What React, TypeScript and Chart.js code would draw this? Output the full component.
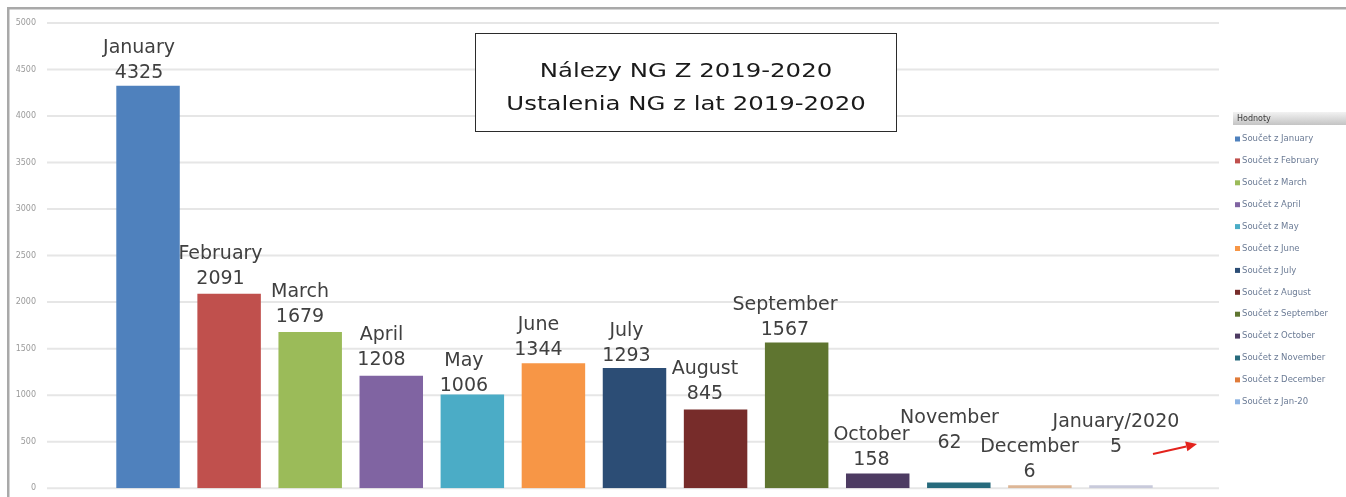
import React, { useEffect, useRef } from 'react';
import { Chart, registerables } from 'chart.js';

Chart.register(...registerables);

// ---------- data ----------
const categories = [
  'January', 'February', 'March', 'April', 'May', 'June', 'July',
  'August', 'September', 'October', 'November', 'December', 'January/2020',
];
const values = [4325, 2091, 1679, 1208, 1006, 1344, 1293, 845, 1567, 158, 62, 6, 5];
const legendNames = [
  'January', 'February', 'March', 'April', 'May', 'June', 'July',
  'August', 'September', 'October', 'November', 'December', 'Jan-20',
];
const legendPrefix = 'Součet z ';
const legendTitle = 'Hodnoty';
const titleLines = ['Nálezy NG Z 2019-2020', 'Ustalenia NG z lat 2019-2020'];
const yMin = 0;
const yMax = 5000;
const yStep = 500;

// ---------- styles ----------
const paletteColors = [
  '#4F81BD', '#C0504D', '#9BBB59', '#8064A2', '#4BACC6', '#F79646', '#2C4D75',
  '#772C2A', '#5F7530', '#4D3B62', '#276A7C', '#E07B39', '#8EB4E3',
];
const barColors = [
  '#4F81BD', '#C0504D', '#9BBB59', '#8064A2', '#4BACC6', '#F79646', '#2C4D75',
  '#772C2A', '#5F7530', '#4D3B62', '#276A7C', '#DDB696', '#C8CADB',
];
// manual label placement (px) relative to bar centre / bar top
const labelDx = [-9, -8.6, -10.2, -9.8, -8.4, -15, -8, -10.6, -11.7, -6.3, -9.3, -10.4, -5];
const labelDy = [-15, -17, -17, -18, -11, -15, -13.5, -18, -14.5, -15, -41, -17.5, -42.5];
const LABEL_FONT = '19px "DejaVu Sans"';
const LABEL_LINE = 25;

const decorPlugin = {
  id: 'decor',
  beforeDraw(chart: any) {
    const ctx = chart.ctx;
    ctx.save();
    ctx.fillStyle = '#ffffff';
    ctx.fillRect(0, 0, chart.width, chart.height);
    ctx.fillStyle = '#a9a9a9';
    ctx.fillRect(7, 7, chart.width - 7, 2.5);
    ctx.fillRect(7, 7, 2.5, chart.height - 7);
    ctx.restore();
  },
  beforeDatasetsDraw(chart: any) {
    const ctx = chart.ctx;
    const ys = chart.scales.y;
    ctx.save();
    ctx.strokeStyle = '#e6e6e6';
    ctx.lineWidth = 2;
    ys.ticks.forEach((t: any) => {
      const y = ys.getPixelForValue(t.value);
      ctx.beginPath();
      ctx.moveTo(47, y);
      ctx.lineTo(1219, y);
      ctx.stroke();
    });
    ctx.restore();
  },
  afterDatasetsDraw(chart: any) {
    const ctx = chart.ctx;
    const ys = chart.scales.y;
    const meta = chart.getDatasetMeta(0);
    ctx.save();
    // data labels
    ctx.font = LABEL_FONT;
    ctx.fillStyle = '#404040';
    ctx.textAlign = 'center';
    ctx.textBaseline = 'alphabetic';
    meta.data.forEach((bar: any, i: number) => {
      const x = bar.x + labelDx[i];
      const top = ys.getPixelForValue(values[i]);
      const numCenter = top + labelDy[i];
      const base = numCenter + 7;
      ctx.fillText(categories[i], x, base - LABEL_LINE);
      ctx.fillText(String(values[i]), x, base);
    });

    // red arrow
    const x1 = 1153, y1 = 454, x2 = 1197, y2 = 444;
    const ang = Math.atan2(y2 - y1, x2 - x1);
    const hl = 11, hw = 5;
    const bx = x2 - hl * Math.cos(ang), by = y2 - hl * Math.sin(ang);
    ctx.strokeStyle = '#E3221C';
    ctx.fillStyle = '#E3221C';
    ctx.lineWidth = 2;
    ctx.beginPath();
    ctx.moveTo(x1, y1);
    ctx.lineTo(bx, by);
    ctx.stroke();
    ctx.beginPath();
    ctx.moveTo(x2, y2);
    ctx.lineTo(bx + hw * Math.sin(ang), by - hw * Math.cos(ang));
    ctx.lineTo(bx - hw * Math.sin(ang), by + hw * Math.cos(ang));
    ctx.closePath();
    ctx.fill();

    // title box
    ctx.fillStyle = '#ffffff';
    ctx.fillRect(475, 33, 422, 99);
    ctx.strokeStyle = '#2b2b2b';
    ctx.lineWidth = 1;
    ctx.strokeRect(475.5, 33.5, 421, 98);
    ctx.fillStyle = '#1a1a1a';
    ctx.font = '20px "DejaVu Sans"';
    ctx.textAlign = 'center';
    const titleBases = [77, 110];
    titleLines.forEach((line, i) => {
      ctx.save();
      ctx.translate(686, titleBases[i]);
      ctx.scale(1.22, 1);
      ctx.fillText(line, 0, 0);
      ctx.restore();
    });

    // legend
    const lx = 1233, hy = 112, hh = 13;
    const g = ctx.createLinearGradient(0, hy, 0, hy + hh);
    g.addColorStop(0, '#f2f2f2');
    g.addColorStop(1, '#c4c4c4');
    ctx.fillStyle = g;
    ctx.fillRect(lx, hy, chart.width - lx, hh);
    ctx.fillStyle = '#3a3a3a';
    ctx.font = '8px "DejaVu Sans"';
    ctx.textAlign = 'left';
    ctx.textBaseline = 'middle';
    ctx.fillText(legendTitle, lx + 4, hy + hh / 2);
    ctx.font = '8.5px "DejaVu Sans"';
    legendNames.forEach((name, i) => {
      const y = 139 + i * 21.9;
      ctx.fillStyle = paletteColors[i];
      ctx.fillRect(1235, y - 2.5, 5, 5);
      ctx.fillStyle = '#6b7b95';
      ctx.fillText(legendPrefix + name, 1242, y);
    });
    ctx.restore();
  },
};

export default function App() {
  const ref = useRef<HTMLCanvasElement | null>(null);
  useEffect(() => {
    if (!ref.current) return;
    const chart = new Chart(ref.current, {
      type: 'bar',
      data: {
        labels: categories,
        datasets: [
          {
            data: values,
            backgroundColor: barColors,
            borderWidth: 0,
            barPercentage: 0.783,
            categoryPercentage: 1,
            minBarLength: 3,
          },
        ],
      },
      options: {
        responsive: false,
        animation: false,
        layout: { padding: { left: 0, right: 184.5, top: 23, bottom: 7.4 } },
        plugins: {
          legend: { display: false },
          tooltip: { enabled: false },
          title: { display: false },
        },
        scales: {
          x: { display: false },
          y: {
            min: yMin,
            max: yMax,
            ticks: {
              stepSize: yStep,
              padding: 4,
              color: '#9a9a9a',
              font: { family: 'DejaVu Sans', size: 8 },
              callback: (v: any) => String(v),
            },
            grid: { display: false, drawTicks: true, tickLength: 67.5 },
            border: { display: false },
            afterFit: (s: any) => {
              s.width = 107.5;
            },
          },
        },
      },
      plugins: [decorPlugin],
    });
    return () => chart.destroy();
  }, []);
  return (
    <canvas
      ref={ref}
      width={1346}
      height={497}
      style={{ position: 'fixed', left: 0, top: 0, width: 1346, height: 497 }}
    />
  );
}
